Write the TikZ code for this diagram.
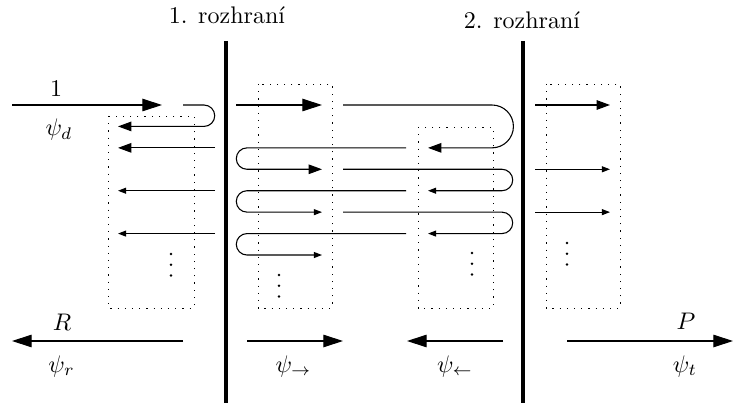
\documentclass[tikz,border=0pt]{standalone}
\usetikzlibrary{arrows.meta}
\begin{document}
\begin{tikzpicture}[x=0.41667pt,y=-0.41667pt,
  arrbig/.style={-{Triangle[length=8.2pt,width=5.2pt]}},
  arrmid/.style={-{Triangle[length=5.6pt,width=4pt]}},
  arrsmall/.style={-{Triangle[length=3.4pt,width=2.5pt]}},
  wave/.style={line width=0.45pt},
  iface/.style={line width=1.35pt},
  dotbox/.style={dash pattern=on 0.5pt off 2.5pt,line width=0.4pt},
  lbl/.style={inner sep=0pt,anchor=base}]
\useasboundingbox (0,0) rectangle (733,403);
% interfaces
\coordinate (i1t) at (226,41);
\coordinate (i1b) at (226,403);
\coordinate (i2t) at (523,41);
\coordinate (i2b) at (523,403);
\draw[iface] (i1t) -- (i1b);
\draw[iface] (i2t) -- (i2b);
\node[lbl] (lab1) at (227,23.5) {1. rozhraní};
\node[lbl] (lab2) at (522,28.5) {2. rozhraní};
% dotted boxes
\draw[dotbox] (108,116) rectangle (194,308);
\draw[dotbox] (258,84) rectangle (332,308);
\draw[dotbox] (418,127) rectangle (493,308);
\draw[dotbox] (546,84) rectangle (620,308);
% vdots
\foreach \x/\y in {171/254, 279/275, 472/253, 567/243}{
  \foreach \k in {0,1,2}{\fill (\x,{\y+10.7*\k}) circle[radius=0.58pt];}
}
% incoming
\draw[wave,arrbig] (12,105) -- (162,105);
\node[lbl] (one) at (56,97) {$1$};
\node[lbl] (psid) at (59,136) {$\psi_d$};
\draw[wave,arrmid] (183,105) -- (204,105) arc[start angle=-90,end angle=90,radius=10.715] -- (118,126.43);
% reflected on the left
\draw[wave,arrmid] (215,147.86) -- (118,147.86);
\draw[wave,arrsmall] (215,190.72) -- (118,190.72);
\draw[wave,arrsmall] (215,233.58) -- (118,233.58);
% inside the layer
\draw[wave,arrbig] (236,105) -- (322,105);
\draw[wave,arrmid] (343,105) -- (492,105) arc[start angle=-90,end angle=90,radius=21.43] -- (428,147.86);
\draw[wave,arrmid] (406,147.86) -- (247,147.86) arc[start angle=-90,end angle=-270,radius=10.715] -- (322,169.29);
\draw[wave,arrsmall] (343,169.29) -- (502,169.29) arc[start angle=-90,end angle=90,radius=10.715] -- (428,190.72);
\draw[wave,arrsmall] (406,190.72) -- (247,190.72) arc[start angle=-90,end angle=-270,radius=10.715] -- (322,212.15);
\draw[wave,arrsmall] (343,212.15) -- (502,212.15) arc[start angle=-90,end angle=90,radius=10.715] -- (428,233.58);
\draw[wave,arrsmall] (406,233.58) -- (247,233.58) arc[start angle=-90,end angle=-270,radius=10.715] -- (322,255.01);
% transmitted
\draw[wave,arrmid] (535,105) -- (610,105);
\draw[wave,arrsmall] (535,169.29) -- (610,169.29);
\draw[wave,arrsmall] (535,212.15) -- (610,212.15);
% resulting waves
\draw[wave,arrbig] (183,341) -- (12,341);
\node[lbl] (R) at (62,330) {$R$};
\node[lbl] (psir) at (61.5,372) {$\psi_r$};
\draw[wave,arrbig] (247,341) -- (343,341);
\node[lbl] (psiright) at (293.5,372) {$\psi_\rightarrow$};
\draw[wave,arrbig] (503,341) -- (407,341);
\node[lbl] (psileft) at (455,372) {$\psi_\leftarrow$};
\draw[wave,arrbig] (567,341) -- (733,341);
\node[lbl] (P) at (686,329) {$P$};
\node[lbl] (psit) at (685,372) {$\psi_t$};
\end{tikzpicture}
\end{document}
